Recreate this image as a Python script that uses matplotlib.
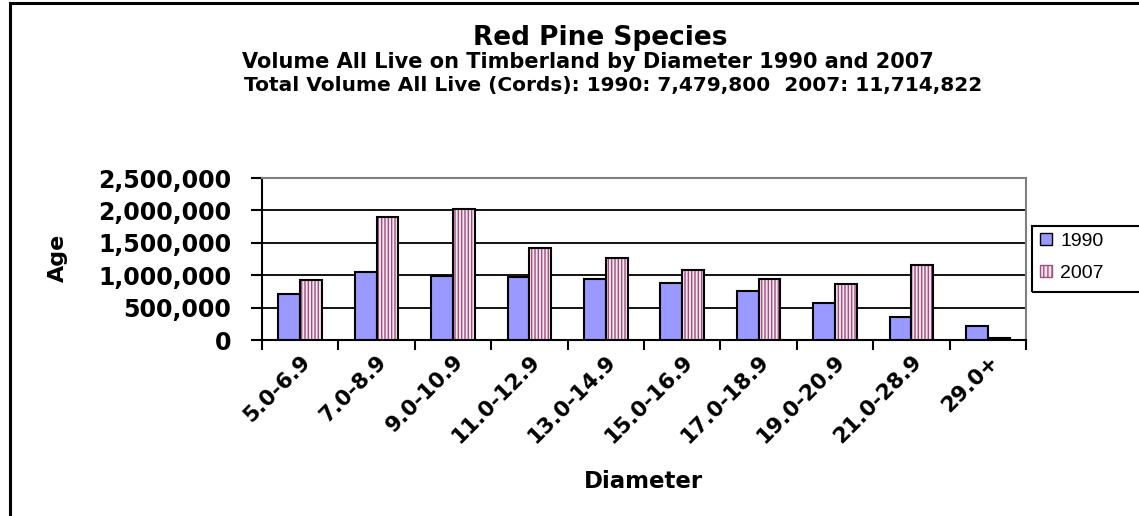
import matplotlib
matplotlib.use("Agg")
import matplotlib.pyplot as plt
import matplotlib.transforms as mtransforms
import numpy as np
from matplotlib.patches import Rectangle, Patch

categories = ["5.0-6.9", "7.0-8.9", "9.0-10.9", "11.0-12.9", "13.0-14.9",
              "15.0-16.9", "17.0-18.9", "19.0-20.9", "21.0-28.9", "29.0+"]
vol_1990 = [703000, 1050000, 995000, 975000, 943000, 887000, 754000, 564000, 349000, 215000]
vol_2007 = [923000, 1897000, 2026000, 1426000, 1272000, 1082000, 949000, 862000, 1164000, 30000]
series_names = ["1990", "2007"]
yticks = [0, 500000, 1000000, 1500000, 2000000, 2500000]
ytick_labels = ["0", "500,000", "1,000,000", "1,500,000", "2,000,000", "2,500,000"]

W, H = 1139, 516
fig = plt.figure(figsize=(W / 100, H / 100), dpi=100)
fig.patch.set_facecolor("white")

# outer chart border
fig.add_artist(Rectangle((10 / W, -0.05), 1.2, 1 - 3 / H + 0.05, transform=fig.transFigure,
                         fill=False, edgecolor="black", linewidth=2.2))

L, R, T, B = 262, 1026, 178, 340
ax = fig.add_axes([L / W, 1 - B / H, (R - L) / W, (B - T) / H])

n = len(categories)
x = np.arange(n)
bw = 1 / 3.5
FILL_1990 = "#9999FF"
FILL_2007 = "#F4E4EE"
STRIPE = "#A0507F"
ax.bar(x - bw / 2, vol_1990, width=bw, color=FILL_1990, edgecolor="black", linewidth=1.5,
       label=series_names[0], zorder=3)
plt.rcParams["hatch.linewidth"] = 1.0
ax.bar(x + bw / 2, vol_2007, width=bw, color=FILL_2007, edgecolor=STRIPE, hatch="|||||",
       linewidth=0, zorder=3)
ax.bar(x + bw / 2, vol_2007, width=bw, facecolor="none", edgecolor="black", linewidth=1.5,
       zorder=4)

ax.set_xlim(-0.5, n - 0.5)
ax.set_ylim(0, 2500000)
ax.set_yticks(yticks)
ax.set_yticklabels(ytick_labels, fontfamily="DejaVu Sans", fontweight="bold", fontsize=17)
ax.yaxis.grid(True, color="black", linewidth=1.3, zorder=1)
ax.set_axisbelow(True)

ax.set_xticks(np.arange(n + 1) - 0.5, minor=False)
ax.set_xticklabels([])
ax.set_xticks(x, minor=True)
labs = ax.set_xticklabels(categories, minor=True, rotation=45, ha="right", va="top",
                          rotation_mode="anchor", fontfamily="DejaVu Sans",
                          fontweight="bold", fontsize=15.5)
shift = mtransforms.ScaledTranslation(-14 / 100, 0, fig.dpi_scale_trans)
for t in labs:
    t.set_transform(t.get_transform() + shift)
ax.tick_params(axis="x", which="minor", length=0, pad=8)
ax.tick_params(axis="x", which="major", length=7, width=1.5, direction="out")
ax.tick_params(axis="y", length=8, width=1.5, direction="out", pad=14)

for s in ["left", "bottom"]:
    ax.spines[s].set_color("black")
    ax.spines[s].set_linewidth(1.5)
for s in ["top", "right"]:
    ax.spines[s].set_color("#808080")
    ax.spines[s].set_linewidth(1.5)

# titles
tf = "DejaVu Sans"
fig.text(600 / W, 1 - 38 / H, "Red Pine Species", ha="center", va="center",
         fontfamily=tf, fontweight="bold", fontsize=19)
fig.text(588 / W, 1 - 62 / H, "Volume All Live on Timberland by Diameter 1990 and 2007",
         ha="center", va="center", fontfamily=tf, fontweight="bold", fontsize=15)
fig.text(613 / W, 1 - 85 / H, "Total Volume All Live (Cords): 1990: 7,479,800  2007: 11,714,822",
         ha="center", va="center", fontfamily=tf, fontweight="bold", fontsize=14.5)

fig.text(58 / W, 1 - 258 / H, "Age", rotation=90, ha="center", va="center",
         fontfamily="DejaVu Sans", fontweight="bold", fontsize=16)
fig.text(643 / W, 1 - 481 / H, "Diameter", ha="center", va="center",
         fontfamily="DejaVu Sans", fontweight="bold", fontsize=16.5)

# legend: frame drawn manually so it runs off the right edge like the reference
fig.add_artist(Rectangle((1032 / W, 1 - 292 / H), 0.2, 66 / H, transform=fig.transFigure,
                         fill=False, edgecolor="black", linewidth=1.5))
handles = [Patch(facecolor=FILL_1990, edgecolor="black", linewidth=1.0),
           Patch(facecolor=FILL_2007, edgecolor=STRIPE, hatch="||||", linewidth=1.0)]
leg = fig.legend(handles, series_names, loc="upper left",
                 bbox_to_anchor=(1036 / W, 1 - 229 / H), frameon=False,
                 prop={"family": "Liberation Sans", "size": 14},
                 handlelength=0.6, handleheight=0.6, handletextpad=0.45,
                 borderpad=0.2, labelspacing=0.75, borderaxespad=0)

fig.savefig("out.png", dpi=100, facecolor="white")
